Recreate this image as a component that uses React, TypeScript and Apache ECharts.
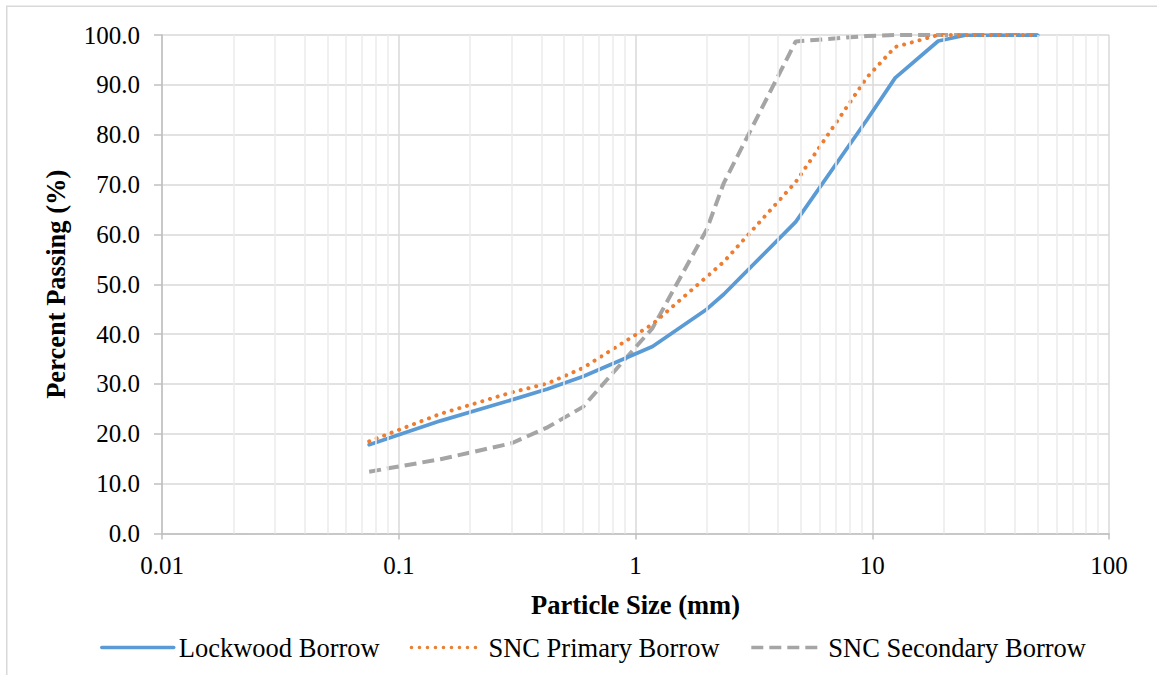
import React, { useEffect, useRef } from "react";
import * as echarts from "echarts";

// Sieve sizes (mm)
const sieveSizes = [0.075, 0.15, 0.3, 0.425, 0.6, 1.18, 2.0, 2.36, 4.75, 9.5, 12.5, 19, 25, 37.5, 50];
// Percent passing
const lockwood = [17.8, 22.6, 26.8, 29.0, 31.5, 37.5, 45.0, 48.0, 62.5, 83.0, 91.4, 98.8, 100, 100, 100];
const sncPrimary = [18.5, 24.0, 28.3, 30.1, 33.2, 42.0, 51.5, 54.5, 70.5, 91.5, 97.6, 100, 100, 100, 100];
const sncSecondary = [12.4, 14.9, 18.1, 21.3, 25.4, 41.2, 61.0, 70.3, 98.7, 99.8, 100, 100, 100, 100, 100];

const seriesNames = ["Lockwood Borrow", "SNC Primary Borrow", "SNC Secondary Borrow"];
const xTickLabels = ["0.01", "0.1", "1", "10", "100"];
const decadeStarts = [0.01, 0.1, 1, 10];
const minorMultipliers = [2, 3, 4, 5, 6, 7, 8, 9];

const FONT = "'Liberation Serif', 'Times New Roman', serif";

export default function App() {
  const ref = useRef<HTMLDivElement>(null);

  useEffect(() => {
    if (!ref.current) return;
    const chart = echarts.init(ref.current, undefined, { renderer: "svg" });
    const pairs = (ys: number[]) => sieveSizes.map((x, i) => [x, ys[i]]);
    const minorLines = decadeStarts.flatMap((d) =>
      minorMultipliers.map((m) => ({ xAxis: parseFloat((d * m).toPrecision(3)) }))
    );

    chart.setOption({
      animation: false,
      backgroundColor: "#ffffff",
      textStyle: { fontFamily: FONT },
      graphic: [
        {
          type: "rect",
          shape: { x: 6.75, y: 6.25, width: 1300, height: 800 },
          style: { fill: "none", stroke: "#d9d9d9", lineWidth: 1.5 },
          silent: true,
          z: -10,
        },
      ],
      grid: { left: 162, top: 35, right: 48, bottom: 141.5, containLabel: false },
      legend: {
        data: seriesNames,
        left: 95,
        top: 629,
        itemWidth: 72,
        itemHeight: 14,
        itemGap: 30,
        itemStyle: { opacity: 0 },
        lineStyle: { width: 3.5 },
        textStyle: { fontFamily: FONT, fontSize: 26.5, color: "#000" },
      },
      xAxis: {
        type: "log",
        logBase: 10,
        min: 0.01,
        max: 100,
        name: "Particle Size (mm)",
        nameLocation: "middle",
        nameGap: 58,
        nameTextStyle: { fontFamily: FONT, fontSize: 26.5, fontWeight: "bold", color: "#000" },
        axisLine: { show: true, lineStyle: { color: "#bfbfbf", width: 1.5 } },
        axisTick: { show: true, length: 6, lineStyle: { color: "#bfbfbf", width: 1.5 } },
        axisLabel: {
          fontFamily: FONT,
          fontSize: 25,
          color: "#000",
          margin: 19,
          formatter: (v: number) => xTickLabels[Math.round(Math.log10(v)) + 2],
        },
        splitLine: { show: true, lineStyle: { color: "#d9d9d9", width: 1.5 } },
        minorTick: { show: false },
      },
      yAxis: {
        type: "value",
        min: 0,
        max: 100,
        interval: 10,
        name: "Percent Passing (%)",
        nameLocation: "middle",
        nameGap: 93,
        nameTextStyle: { fontFamily: FONT, fontSize: 26.5, fontWeight: "bold", color: "#000" },
        axisLine: { show: true, lineStyle: { color: "#bfbfbf", width: 1.5 } },
        axisTick: { show: true, length: 8, lineStyle: { color: "#bfbfbf", width: 1.5 } },
        axisLabel: {
          fontFamily: FONT,
          fontSize: 25,
          color: "#000",
          margin: 22,
          formatter: (v: number) => v.toFixed(1),
        },
        splitLine: { show: true, lineStyle: { color: "#d9d9d9", width: 1.5 } },
      },
      series: [
        {
          name: "minor-grid",
          type: "line",
          data: [],
          z: 1,
          silent: true,
          markLine: {
            silent: true,
            symbol: ["none", "none"],
            label: { show: false },
            lineStyle: { color: "#ebebeb", width: 1.5, type: "solid" },
            emphasis: { disabled: true },
            data: minorLines,
          },
        },
        {
          name: seriesNames[0],
          type: "line",
          data: pairs(lockwood),
          symbol: "none",
          z: 3,
          color: "#5b9bd5",
          lineStyle: { color: "#5b9bd5", width: 3.75, type: "solid", cap: "round" },
        },
        {
          name: seriesNames[1],
          type: "line",
          data: pairs(sncPrimary),
          symbol: "none",
          z: 4,
          color: "#ed7d31",
          lineStyle: { color: "#ed7d31", width: 4, type: [0.1, 7.9], cap: "round" },
        },
        {
          name: seriesNames[2],
          type: "line",
          data: pairs(sncSecondary),
          symbol: "none",
          z: 2,
          color: "#a5a5a5",
          lineStyle: { color: "#a5a5a5", width: 4, type: [12, 6], cap: "butt" },
        },
      ],
    });

    return () => chart.dispose();
  }, []);

  return (
    <div
      ref={ref}
      style={{ position: "fixed", left: 0, top: 0, width: 1157, height: 675, background: "#fff" }}
    />
  );
}
